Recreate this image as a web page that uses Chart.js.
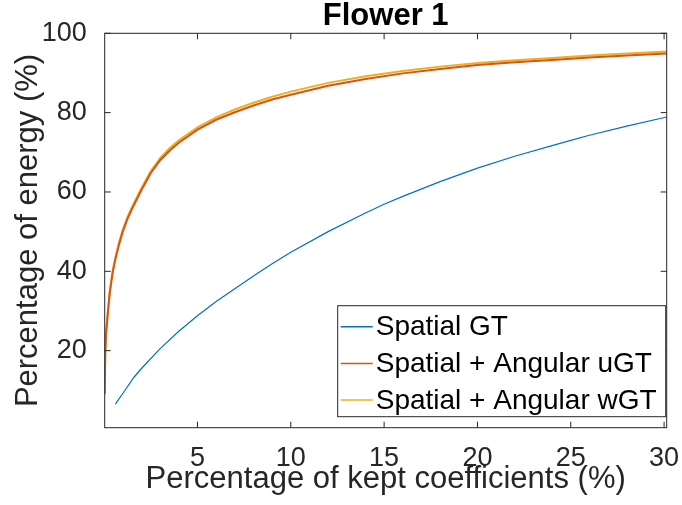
<!DOCTYPE html>
<html>
<head>
<meta charset="utf-8">
<script src="https://cdn.jsdelivr.net/npm/chart.js@4.4.1/dist/chart.umd.min.js"></script>
<style>
  html, body { margin: 0; padding: 0; background: #fff; overflow: hidden; }
  #wrap { width: 682px; height: 505px; position: relative; }
  #grafico { display: block; }
</style>
</head>
<body>
<div id="wrap"><canvas id="grafico" width="682" height="505"></canvas></div>
<script>
// Porcentaje de coeficientes conservados (eje x) para las curvas Spatial + Angular
const xAngular = [0.03, 0.06, 0.1, 0.2, 0.3, 0.45, 0.6, 0.8, 1, 1.25, 1.5, 2, 2.5, 3, 3.5, 4, 5, 6, 7, 8, 9, 10, 12, 14, 16, 18, 20, 22, 24, 26, 28, 30.14];
const energiaWGT = [9.5, 20, 24.5, 30, 35, 40, 43.5, 47.3, 50.5, 53.7, 56.3, 61, 65.3, 68.5, 71, 73, 76.3, 78.8, 80.8, 82.5, 84.0, 85.3, 87.5, 89.2, 90.5, 91.6, 92.5, 93.2, 93.8, 94.4, 94.9, 95.4];
const energiaUGT = [9.0, 19.5, 24, 29.5, 34.5, 39.5, 43, 46.8, 50, 53.2, 55.8, 60.5, 64.8, 68, 70.4, 72.4, 75.7, 78.2, 80.1, 81.8, 83.3, 84.5, 86.8, 88.5, 89.9, 91.0, 92.0, 92.7, 93.3, 93.9, 94.4, 94.9];

// Curva Spatial GT
const xSpatial = [0.6, 1, 1.6, 2, 3, 4, 5, 6, 7, 8, 9, 10, 12, 14, 15, 16, 18, 20, 22, 24, 25, 26, 28, 30.14];
const energiaGT = [6.5, 9.2, 13.3, 15.5, 20.5, 24.9, 28.8, 32.4, 35.6, 38.8, 41.9, 44.8, 50, 54.7, 56.9, 58.9, 62.6, 66, 69, 71.7, 73, 74.3, 76.6, 78.9];

const etiquetas = ['Spatial GT', 'Spatial + Angular uGT', 'Spatial + Angular wGT'];
const colores = ['#0072BD', '#D95319', '#EDB120'];

const fuente = "'Liberation Sans', Arial, Helvetica, sans-serif";
const colorEjes = '#262626';

function pares(xs, ys) {
    return xs.map((x, i) => ({ x: x, y: ys[i] }));
}

// Caja del eje y marcas hacia dentro (estilo MATLAB)
const cajaEjes = {
    id: 'cajaEjes',
    afterDatasetsDraw(chart) {
        const { ctx, chartArea: a, scales } = chart;
        ctx.save();
        ctx.strokeStyle = colorEjes;
        ctx.lineWidth = 1;
        ctx.beginPath();
        scales.x.ticks.forEach(t => {
            const px = scales.x.getPixelForValue(t.value);
            ctx.moveTo(px, a.bottom); ctx.lineTo(px, a.bottom - 6);
            ctx.moveTo(px, a.top); ctx.lineTo(px, a.top + 6);
        });
        scales.y.ticks.forEach(t => {
            const py = scales.y.getPixelForValue(t.value);
            ctx.moveTo(a.left, py); ctx.lineTo(a.left + 6, py);
            ctx.moveTo(a.right, py); ctx.lineTo(a.right - 6, py);
        });
        ctx.stroke();
        ctx.strokeRect(a.left, a.top, a.right - a.left, a.bottom - a.top);
        ctx.restore();
    }
};

// Leyenda dentro del área, esquina inferior derecha
const leyenda = {
    id: 'leyenda',
    afterDraw(chart) {
        const { ctx, chartArea: a } = chart;
        const w = 328, h = 111;
        const x0 = a.right - 1 - w, y0 = a.bottom - 11 - h;
        ctx.save();
        ctx.fillStyle = '#fff';
        ctx.fillRect(x0, y0, w, h);
        ctx.strokeStyle = colorEjes;
        ctx.lineWidth = 1;
        ctx.strokeRect(x0, y0, w, h);
        ctx.font = '28px ' + fuente;
        ctx.textBaseline = 'middle';
        chart.data.datasets.forEach((ds, i) => {
            const y = y0 + 21 + i * 36.7;
            ctx.strokeStyle = ds.borderColor;
            ctx.lineWidth = 1.5;
            ctx.beginPath();
            ctx.moveTo(x0 + 3, y); ctx.lineTo(x0 + 35, y);
            ctx.stroke();
            ctx.fillStyle = '#000';
            ctx.fillText(ds.label, x0 + 38, y + 1);
        });
        ctx.restore();
    }
};

const config = {
    type: 'line',
    data: {
        datasets: [
            { label: etiquetas[0], data: pares(xSpatial, energiaGT), borderColor: colores[0], borderWidth: 1.2 },
            { label: etiquetas[1], data: pares(xAngular, energiaUGT), borderColor: colores[1], borderWidth: 2 },
            { label: etiquetas[2], data: pares(xAngular, energiaWGT), borderColor: colores[2], borderWidth: 2 }
        ]
    },
    options: {
        responsive: false,
        animation: false,
        parsing: false,
        elements: { point: { radius: 0 }, line: { tension: 0, fill: false } },
        layout: { autoPadding: false, padding: { top: 0, right: 15.3, bottom: 0, left: 0 } },
        plugins: {
            legend: { display: false },
            tooltip: { enabled: false },
            title: {
                display: true,
                text: 'Flower 1',
                fullSize: false,
                color: '#000',
                font: { family: fuente, size: 31, weight: 'bold', lineHeight: 1 },
                padding: { top: 1, bottom: 1.3 }
            }
        },
        scales: {
            x: {
                type: 'linear',
                min: 0.03,
                max: 30.14,
                grid: { display: false },
                border: { display: false },
                ticks: { stepSize: 5, includeBounds: false, autoSkip: false, maxRotation: 0, padding: 7, color: colorEjes, font: { family: fuente, size: 27 } },
                title: { display: true, text: 'Percentage of kept coefficients (%)', color: colorEjes, font: { family: fuente, size: 31, lineHeight: 1.2 }, padding: { top: 0, bottom: 7 } },
                afterFit(scale) { scale.height = 77.3; scale.paddingLeft = 0; scale.paddingRight = 0; }
            },
            y: {
                type: 'linear',
                min: 0.58,
                max: 100,
                grid: { display: false },
                border: { display: false },
                ticks: { stepSize: 20, includeBounds: false, padding: 10, color: colorEjes, font: { family: fuente, size: 27 } },
                title: { display: true, text: 'Percentage of energy (%)', color: colorEjes, font: { family: fuente, size: 31, lineHeight: 1.2 }, padding: { top: 10, bottom: 0 } },
                afterFit(scale) { scale.width = 104.7; scale.paddingTop = 0; scale.paddingBottom = 0; }
            }
        }
    },
    plugins: [cajaEjes, leyenda]
};

const ctx = document.getElementById('grafico').getContext('2d');
new Chart(ctx, config);
</script>
</body>
</html>
